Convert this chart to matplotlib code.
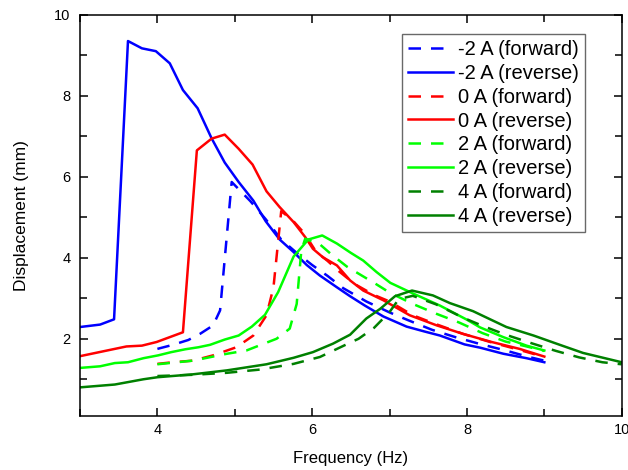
import matplotlib
matplotlib.use("Agg")
import matplotlib.pyplot as plt
from matplotlib.ticker import MultipleLocator

plt.rcParams['font.family'] = ['Liberation Sans', 'DejaVu Sans']

# -2 A
m2_fwd_x = [4.0, 4.2, 4.4, 4.55, 4.72, 4.81, 4.96, 5.2, 5.4, 5.6, 5.8, 6.0, 6.2, 6.4, 6.7, 7.0, 7.25, 7.55, 7.85, 8.15, 8.5, 8.8, 9.0]
m2_fwd_y = [1.75, 1.85, 1.97, 2.12, 2.33, 2.70, 5.87, 5.40, 4.95, 4.45, 4.12, 3.82, 3.55, 3.25, 2.92, 2.65, 2.45, 2.22, 2.04, 1.88, 1.71, 1.55, 1.46]
m2_rev_x = [3.0, 3.26, 3.44, 3.62, 3.80, 3.98, 4.16, 4.33, 4.52, 4.70, 4.87, 5.05, 5.24, 5.40, 5.58, 5.76, 5.93, 6.10, 6.32, 6.49, 6.68, 6.92, 7.22, 7.45, 7.65, 7.97, 8.17, 8.47, 8.77, 9.0]
m2_rev_y = [2.29, 2.35, 2.48, 9.35, 9.17, 9.10, 8.80, 8.14, 7.69, 6.95, 6.35, 5.87, 5.41, 4.90, 4.45, 4.14, 3.82, 3.56, 3.27, 3.05, 2.82, 2.55, 2.30, 2.18, 2.08, 1.86, 1.78, 1.63, 1.52, 1.42]

# 0 A
z_fwd_x = [4.0, 4.2, 4.46, 4.72, 5.02, 5.24, 5.41, 5.5, 5.6, 5.75, 5.9, 6.05, 6.2, 6.35, 6.55, 6.8, 7.0, 7.3, 7.6, 7.95, 8.3, 8.65, 9.0]
z_fwd_y = [1.38, 1.42, 1.46, 1.59, 1.79, 2.08, 2.58, 3.27, 5.15, 4.92, 4.60, 4.15, 3.92, 3.66, 3.35, 3.08, 2.92, 2.58, 2.36, 2.12, 1.92, 1.74, 1.55]
z_rev_x = [3.0, 3.3, 3.6, 3.8, 3.99, 4.16, 4.33, 4.51, 4.70, 4.87, 5.05, 5.23, 5.41, 5.58, 5.76, 5.91, 6.01, 6.14, 6.32, 6.49, 6.66, 6.92, 7.26, 7.61, 7.95, 8.32, 8.68, 9.0]
z_rev_y = [1.57, 1.69, 1.81, 1.83, 1.92, 2.04, 2.16, 6.65, 6.94, 7.04, 6.69, 6.30, 5.64, 5.25, 4.88, 4.51, 4.22, 4.01, 3.81, 3.44, 3.19, 2.95, 2.58, 2.33, 2.12, 1.92, 1.75, 1.56]

# 2 A
p2_fwd_x = [4.0, 4.46, 4.9, 5.15, 5.54, 5.71, 5.8, 5.86, 5.91, 6.1, 6.25, 6.45, 6.65, 6.8, 7.0, 7.3, 7.6, 7.9, 8.2, 8.5, 8.75, 9.0]
p2_fwd_y = [1.37, 1.46, 1.63, 1.71, 2.00, 2.25, 2.86, 4.18, 4.47, 4.33, 4.08, 3.78, 3.55, 3.38, 3.14, 2.86, 2.62, 2.40, 2.14, 1.93, 1.82, 1.70]
p2_rev_x = [3.0, 3.26, 3.45, 3.62, 3.82, 4.01, 4.18, 4.36, 4.53, 4.68, 4.87, 5.05, 5.22, 5.39, 5.56, 5.76, 5.95, 6.13, 6.32, 6.5, 6.66, 6.83, 7.01, 7.3, 7.65, 8.0, 8.17, 8.47, 8.77, 9.0]
p2_rev_y = [1.28, 1.32, 1.40, 1.42, 1.52, 1.59, 1.67, 1.74, 1.79, 1.85, 1.98, 2.08, 2.30, 2.59, 3.15, 4.03, 4.45, 4.55, 4.35, 4.12, 3.93, 3.65, 3.38, 3.12, 2.82, 2.47, 2.28, 2.04, 1.83, 1.71]

# 4 A
p4_fwd_x = [4.0, 4.46, 4.9, 5.33, 5.76, 6.1, 6.42, 6.6, 6.8, 7.0, 7.12, 7.3, 7.6, 7.95, 8.2, 8.5, 8.85, 9.15, 9.45, 9.75, 10.0]
p4_fwd_y = [1.08, 1.11, 1.16, 1.24, 1.38, 1.55, 1.84, 2.00, 2.27, 2.66, 2.98, 3.06, 2.85, 2.52, 2.32, 2.10, 1.88, 1.70, 1.54, 1.42, 1.37]
p4_rev_x = [3.0, 3.45, 3.82, 4.0, 4.45, 4.9, 5.41, 5.76, 6.01, 6.27, 6.49, 6.70, 6.88, 7.07, 7.29, 7.56, 7.78, 8.08, 8.3, 8.51, 8.86, 9.2, 9.5, 10.0]
p4_rev_y = [0.80, 0.87, 1.00, 1.05, 1.12, 1.22, 1.37, 1.53, 1.67, 1.88, 2.10, 2.50, 2.74, 3.05, 3.19, 3.07, 2.88, 2.68, 2.48, 2.29, 2.08, 1.85, 1.65, 1.42]

labels = ['-2 A (forward)', '-2 A (reverse)', '0 A (forward)', '0 A (reverse)',
          '2 A (forward)', '2 A (reverse)', '4 A (forward)', '4 A (reverse)']
colors = ['#0000FF', '#FF0000', '#00FF00', '#008000']

series = [(m2_fwd_x, m2_fwd_y), (m2_rev_x, m2_rev_y),
          (z_fwd_x, z_fwd_y), (z_rev_x, z_rev_y),
          (p2_fwd_x, p2_fwd_y), (p2_rev_x, p2_rev_y),
          (p4_fwd_x, p4_fwd_y), (p4_rev_x, p4_rev_y)]

fig = plt.figure(figsize=(6.28, 4.70), dpi=100)
ax = fig.add_axes([0.1274, 0.1155, 0.8626, 0.8532])

for i, (xs, ys) in enumerate(series):
    c = colors[i // 2]
    if i % 2 == 0:
        ax.plot(xs, ys, color=c, lw=1.8, linestyle=(0, (5, 4)), label=labels[i])
    else:
        ax.plot(xs, ys, color=c, lw=1.8, linestyle='-', label=labels[i])

ax.set_xlim(3, 10)
ax.set_ylim(0.1, 10)
ax.xaxis.set_major_locator(MultipleLocator(2))
ax.xaxis.set_minor_locator(MultipleLocator(1))
ax.yaxis.set_major_locator(MultipleLocator(2))
ax.yaxis.set_minor_locator(MultipleLocator(1))
ax.tick_params(which='both', direction='in', top=True, right=True, width=1.1, labelsize=10.5)
ax.tick_params(which='major', length=6)
ax.tick_params(which='minor', length=5)
ax.tick_params(axis='y', which='major', pad=7)
ax.tick_params(axis='x', which='major', pad=5)
for s in ax.spines.values():
    s.set_linewidth(1.1)

ax.set_xlabel('Frequency (Hz)', fontsize=12, labelpad=10)
ax.set_ylabel('Displacement (mm)', fontsize=12.5, labelpad=18)

leg = ax.legend(loc='upper left', bbox_to_anchor=(0.594, 0.952), fontsize=14.5,
                frameon=True, fancybox=False, shadow=False, handlelength=2.25,
                handletextpad=0.25, labelspacing=0.24, borderpad=0.3, borderaxespad=0)
leg.get_frame().set_edgecolor('#444444')
leg.get_frame().set_linewidth(1.0)

fig.savefig('out.png', dpi=100)
